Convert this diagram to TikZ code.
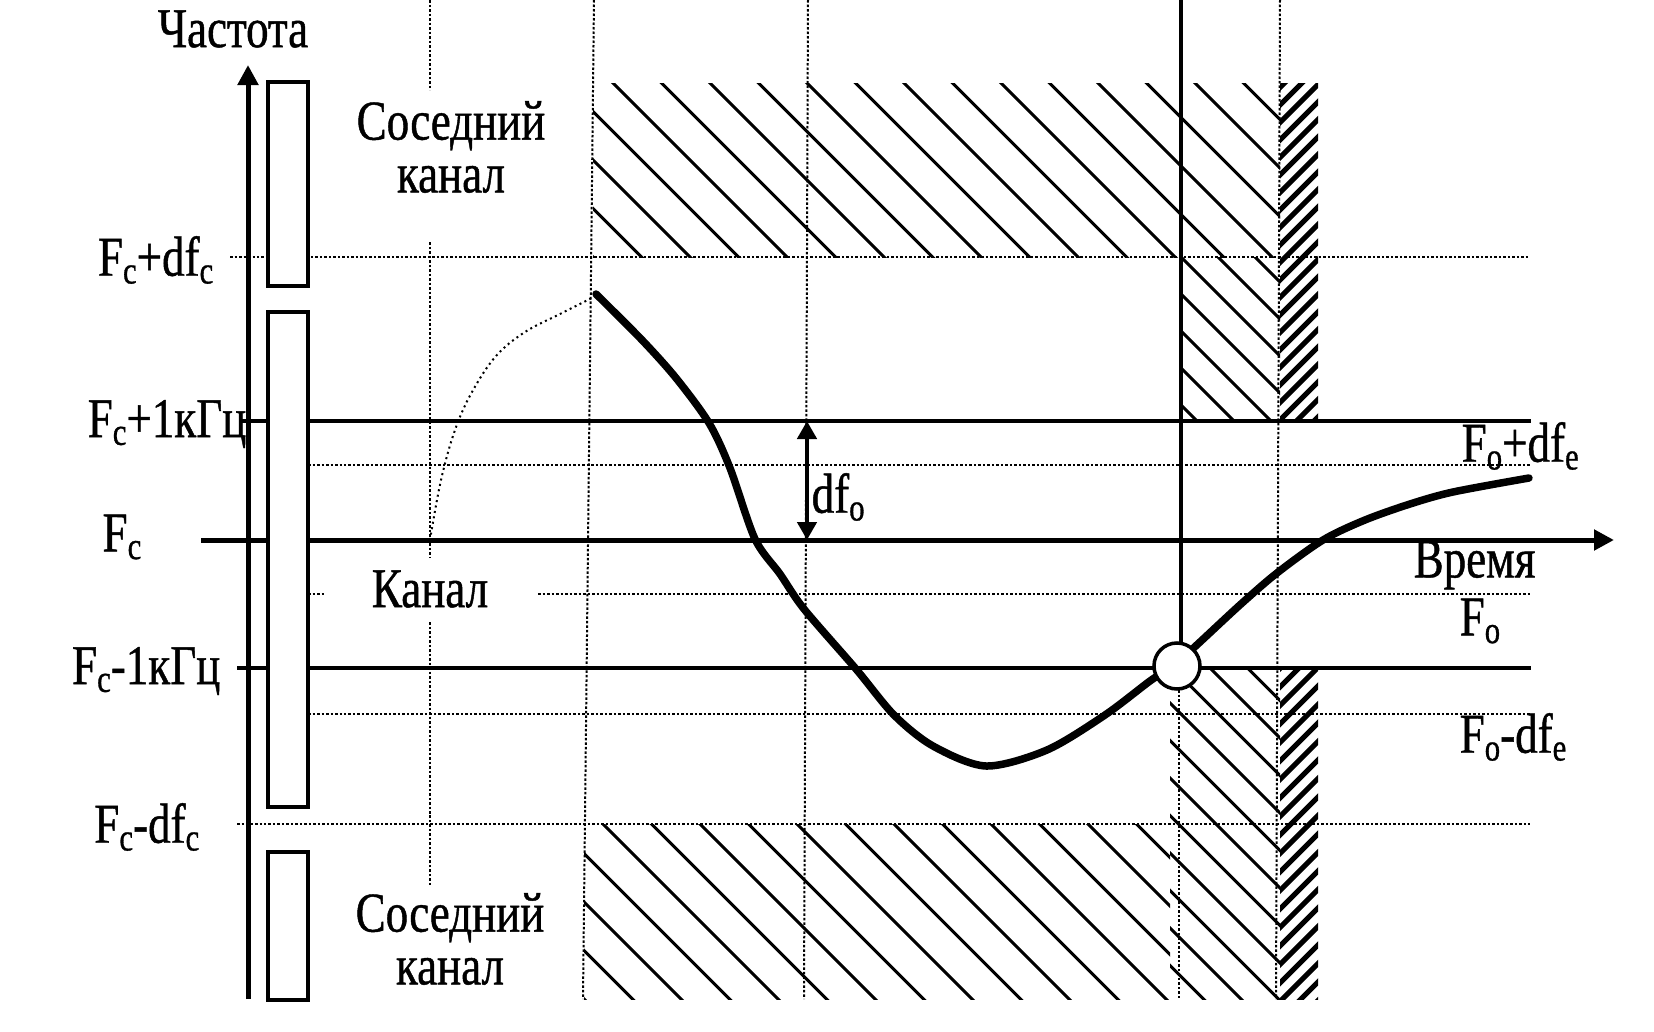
\documentclass[tikz,border=0pt]{standalone}
\usepackage{fontspec}
\setmainfont{Liberation Serif}[FakeStretch=0.8, FakeBold=0.8]
\usetikzlibrary{arrows.meta, positioning}
\newcommand{\subx}[1]{\raisebox{-0.3ex}{\fontsize{11}{11}\selectfont #1}}

\begin{document}
\begin{tikzpicture}[
        x=0.1mm, y=-0.1mm,
        gridline/.style={line width=0.2mm, dash pattern=on 0.25mm off 0.2mm},
        levelline/.style={line width=0.35mm},
        axisarrow/.style={line width=0.5mm, -{Triangle[length=2mm, width=2mm]}},
        strip/.style={draw, line width=0.32mm, fill=white},
        hatch/.style={line width=0.3mm},
        chev/.style={line width=0.5mm},
        track/.style={line width=0.75mm, line join=round, line cap=round},
        lead/.style={line width=0.2mm, dash pattern=on 0.2mm off 0.35mm},
        lbl/.style={font=\fontsize{16}{15}\selectfont, inner sep=0pt, align=center},
        dfarrow/.style={{Triangle[length=1.8mm, width=1.9mm]}-{Triangle[length=1.8mm, width=1.9mm]}, line width=0.45mm}
    ]
    \useasboundingbox (0,0) rectangle (1654,1032);

    % vertical grid
    \draw[gridline] (430,0) -- (430,90) (430,242) -- (430,558) (430,622) -- (430,885);
    \draw[gridline] (594,0) -- (583,999);
    \draw[gridline] (808,0) -- (804,999);
    \draw[gridline] (1179,690) -- (1179,999);
    \draw[gridline] (1280,0) -- (1276,999);
    % horizontal grid
    \draw[gridline] (230,257) -- (1530,257);
    \draw[gridline] (308,465) -- (1530,465);
    \draw[gridline] (308,594) -- (324,594) (538,594) -- (1530,594);
    \draw[gridline] (308,714) -- (1530,714);
    \draw[gridline] (237,824) -- (1530,824);

    % neighbour channels
    \begin{scope}
        \clip (593,83) rectangle (1280,257);
        \foreach \k in {-6,...,15}
            \draw[hatch] ({530+48.5*\k},0) -- ++(300,300);
    \end{scope}
    \begin{scope}
        \clip (584,824) rectangle (1170,999);
        \foreach \k in {-6,...,13}
            \draw[hatch] ({-221+48.5*\k+800},800) -- ++(250,250);
    \end{scope}
    \begin{scope}
        \clip (1182,257) rectangle (1280,421);
        \foreach \k in {-5,...,5}
            \draw[hatch] ({887+37*\k+250},250) -- ++(200,200);
    \end{scope}
    \begin{scope}
        \clip (1170,669) rectangle (1280,999);
        \foreach \k in {-7,...,7}
            \draw[hatch] ({392+37.5*\k+660},660) -- ++(360,360);
    \end{scope}
    \begin{scope}
        \clip (1280,83) rectangle (1318,421);
        \foreach \k in {-2,...,21}
            \draw[chev] (1270,{115+17.5*\k}) -- ++(60,-60);
    \end{scope}
    \begin{scope}
        \clip (1280,669) rectangle (1318,999);
        \foreach \k in {-2,...,19}
            \draw[chev] (1270,{697+18.5*\k}) -- ++(60,-60);
    \end{scope}

    % levels
    \draw[levelline] (241,421) -- (1531,421);
    \draw[levelline] (237,668) -- (1531,668);
    \draw[levelline] (1181,0) -- (1181,666);

    \coordinate (t0) at (201,540);
    \coordinate (t1) at (1614,540);
    \coordinate (f0) at (248,999);
    \coordinate (f1) at (248,65);
    \draw[axisarrow] (t0) -- (t1);
    \draw[axisarrow] (f0) -- (f1);

    % filter strips
    \draw[strip] (268,82) rectangle (308,286);
    \draw[strip] (268,312) rectangle (308,807);
    \draw[strip] (268,852) rectangle (308,1000);

    % frequency track
    \draw[lead] plot[smooth, tension=0.6] coordinates {(430,540) (441,480) (455,430) (472,392) (496,356) (525,332) (560,314) (596,296)};
    \draw[track] plot[smooth, tension=0.5] coordinates {(596,294) (642,340) (676,378) (709,423) (730,468) (755,539) (780,574) (804,609) (856,669) (894,715) (933,746) (986,766) (1047,750) (1105,715) (1150,681) (1178,662) (1200,642) (1241,604) (1277,573) (1323,540) (1365,520) (1410,504) (1453,492) (1529,478)};
    \node[draw, circle, fill=white, line width=0.35mm, minimum size=4.6mm, inner sep=0pt] (hit) at (1177,666) {};

    \coordinate (dfa) at (807,421);
    \coordinate (dfb) at (807,540);
    \draw[dfarrow] (dfa) -- (dfb);
    \coordinate (dfm) at (807,497);
    \node[lbl, right=0.4mm of dfm] (dfo) {df\subx{o}};

    % labels
    \node[lbl] (freq) at (233,29) {Частота};
    \node[lbl, anchor=east] (fcpd) at (214,260) {F\subx{c}+df\subx{c}};
    \node[lbl, anchor=east] (fcp1) at (247,424) {F\subx{c}+1кГц};
    \node[lbl] (fc) at (122,537) {F\subx{c}};
    \node[lbl, anchor=east] (fcm1) at (221,671) {F\subx{c}-1кГц};
    \node[lbl, anchor=east] (fcmd) at (200,827) {F\subx{c}-df\subx{c}};
    \node[lbl] (adjup) at (451,147) {Соседний\\канал};
    \node[lbl] (chan) at (430,589) {Канал};
    \node[lbl] (adjdn) at (450,939) {Соседний\\канал};
    \node[lbl, anchor=west] (time) at (1413,565) {Время};
    \node[lbl, anchor=west] (fopd) at (1461,446) {F\subx{o}+df\subx{e}};
    \node[lbl, anchor=west] (fo) at (1459,621) {F\subx{o}};
    \node[lbl, anchor=west] (fomd) at (1459,737) {F\subx{o}-df\subx{e}};
\end{tikzpicture}
\end{document}
